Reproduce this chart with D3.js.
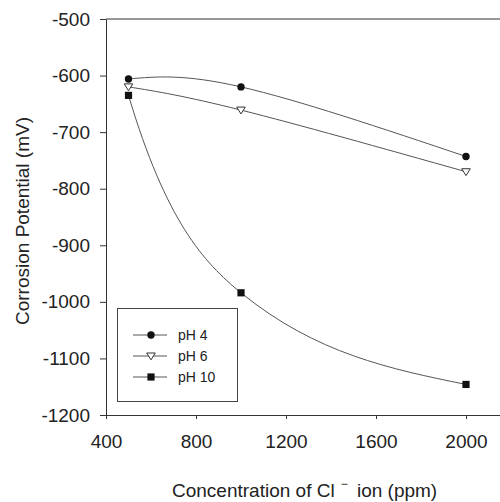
<!DOCTYPE html>
<html>
<head>
<meta charset="utf-8">
<script src="https://cdn.jsdelivr.net/npm/d3@7/dist/d3.min.js"></script>
<style>
  html, body { margin: 0; padding: 0; background: #fff; }
  svg { display: block; font-family: "Liberation Sans", Arial, sans-serif; }
</style>
</head>
<body>
<svg id="chart" width="500" height="502"></svg>
<script>
// ---- data ----
const concentrations = [500, 1000, 2000];
const seriesNames = ["pH 4", "pH 6", "pH 10"];
const pH4 = [-606, -620, -743];
const pH6 = [-620, -661, -770];
const pH10 = [-635, -984, -1146];
const xTicks = [400, 800, 1200, 1600, 2000];
const yTicks = [-500, -600, -700, -800, -900, -1000, -1100, -1200];
const xTitle = "Concentration of Cl";
const xTitleSup = "\u2212";
const xTitleRest = " ion (ppm)";
const yTitle = "Corrosion Potential (mV)";

(function () {
// Hermite spline curve for d3.line: interior tangents like d3.curveMonotoneX,
// start tangent extrapolated with factor `m` (0.5 = d3 default).
function curveHermite(m) {
  function C(ctx) { this._c = ctx; }
  C.prototype = {
    areaStart() {}, areaEnd() {},
    lineStart() { this._x = []; this._y = []; },
    point(x, y) { this._x.push(+x); this._y.push(+y); },
    lineEnd() {
      const X = this._x, Y = this._y, n = X.length, c = this._c;
      if (!n) return;
      c.moveTo(X[0], Y[0]);
      if (n < 2) return;
      const s = [];
      for (let i = 0; i < n - 1; i++) s[i] = (Y[i + 1] - Y[i]) / (X[i + 1] - X[i]);
      const t = new Array(n);
      for (let i = 1; i < n - 1; i++) {
        const h0 = X[i] - X[i - 1], h1 = X[i + 1] - X[i];
        const p = (s[i - 1] * h1 + s[i] * h0) / (h0 + h1);
        t[i] = (Math.sign(s[i - 1]) + Math.sign(s[i])) *
          Math.min(Math.abs(s[i - 1]), Math.abs(s[i]), 0.5 * Math.abs(p)) || 0;
      }
      if (n > 2) {
        t[0] = s[0] + m * (s[0] - t[1]);
        t[n - 1] = s[n - 2] + 0.5 * (s[n - 2] - t[n - 2]);
      } else { t[0] = t[1] = s[0]; }
      for (let i = 0; i < n - 1; i++) {
        const h = (X[i + 1] - X[i]) / 3;
        c.bezierCurveTo(X[i] + h, Y[i] + t[i] * h, X[i + 1] - h, Y[i + 1] - t[i + 1] * h, X[i + 1], Y[i + 1]);
      }
    }
  };
  return ctx => new C(ctx);
}

const series = [
  { name: seriesNames[0], values: pH4, marker: "circle", curve: d3.curveNatural },
  { name: seriesNames[1], values: pH6, marker: "triangle", curve: d3.curveNatural },
  { name: seriesNames[2], values: pH10, marker: "square", curve: curveHermite(1.7) }
];

const svg = d3.select("#chart");
const pLeft = 106, pRight = 500, pTop = 19, pBottom = 415;

const x = d3.scaleLinear().domain([400, 400 + (pRight - pLeft) / 90 * 400]).range([pLeft, pRight]);
const y = d3.scaleLinear().domain([-1200, -500]).range([pBottom, pTop]);

const axisColor = "#333";
const textColor = "#222";

// top frame line
svg.append("line").attr("x1", pLeft).attr("x2", pRight).attr("y1", pTop).attr("y2", pTop)
  .attr("stroke", axisColor).attr("stroke-width", 1);

// x axis
const gx = svg.append("g").attr("transform", `translate(0,${pBottom})`)
  .call(d3.axisBottom(x).tickValues(xTicks).tickSize(4).tickPadding(16).tickSizeOuter(0).tickFormat(d3.format("d")));
gx.select(".domain").attr("stroke", axisColor);
gx.selectAll(".tick line").attr("stroke", axisColor);
gx.selectAll("text").attr("font-size", 19).attr("fill", textColor).attr("font-family", "Liberation Sans, Arial, sans-serif");

// y axis
const gy = svg.append("g").attr("transform", `translate(${pLeft},0)`)
  .call(d3.axisLeft(y).tickValues(yTicks).tickSize(6).tickPadding(10).tickSizeOuter(0).tickFormat(d => d3.format("d")(d).replace("\u2212", "-")));
gy.select(".domain").attr("stroke", axisColor);
gy.selectAll(".tick line").attr("stroke", axisColor);
gy.selectAll("text").attr("font-size", 19).attr("fill", textColor).attr("font-family", "Liberation Sans, Arial, sans-serif");

// titles
const xt = svg.append("text").attr("x", 172).attr("y", 497)
  .attr("font-size", 19).attr("fill", textColor);
xt.append("tspan").text(xTitle);
xt.append("tspan").attr("dx", 6).attr("dy", -9).attr("font-size", 12).text(xTitleSup);
xt.append("tspan").attr("dy", 9).attr("dx", 4).text(xTitleRest);

svg.append("text")
  .attr("transform", `translate(29,221) rotate(-90)`)
  .attr("text-anchor", "middle")
  .attr("font-size", 19).attr("fill", textColor)
  .text(yTitle);

// markers
function drawMarker(g, type, cx, cy) {
  if (type === "circle") {
    g.append("circle").attr("cx", cx).attr("cy", cy).attr("r", 3.7).attr("fill", "#111");
  } else if (type === "square") {
    g.append("rect").attr("x", cx - 3.6).attr("y", cy - 3.6).attr("width", 7.2).attr("height", 7.2).attr("fill", "#111");
  } else {
    const s = 4.3;
    g.append("path").attr("d", `M${cx - s},${cy - s * 0.7}L${cx + s},${cy - s * 0.7}L${cx},${cy + s * 0.9}Z`)
      .attr("fill", "#fff").attr("stroke", "#333").attr("stroke-width", 1);
  }
}

// lines + points
series.forEach(s => {
  const pts = concentrations.map((c, i) => [c, s.values[i]]);
  const line = d3.line().x(d => x(d[0])).y(d => y(d[1])).curve(s.curve);
  svg.append("path").datum(pts).attr("d", line)
    .attr("fill", "none").attr("stroke", "#555").attr("stroke-width", 1);
});
series.forEach(s => {
  const g = svg.append("g");
  concentrations.forEach((c, i) => drawMarker(g, s.marker, x(c), y(s.values[i])));
});

// legend
const lg = svg.append("g");
lg.append("rect").attr("x", 117.5).attr("y", 308.5).attr("width", 120).attr("height", 93)
  .attr("fill", "#fff").attr("stroke", "#444").attr("stroke-width", 1);
series.forEach((s, i) => {
  const cy = 335 + i * 21;
  lg.append("line").attr("x1", 133).attr("x2", 167).attr("y1", cy).attr("y2", cy)
    .attr("stroke", "#555").attr("stroke-width", 1);
  drawMarker(lg, s.marker, 151, cy);
  lg.append("text").attr("x", 178).attr("y", cy + 5).attr("font-size", 14)
    .attr("fill", textColor).text(s.name);
});
})();
</script>
</body>
</html>
